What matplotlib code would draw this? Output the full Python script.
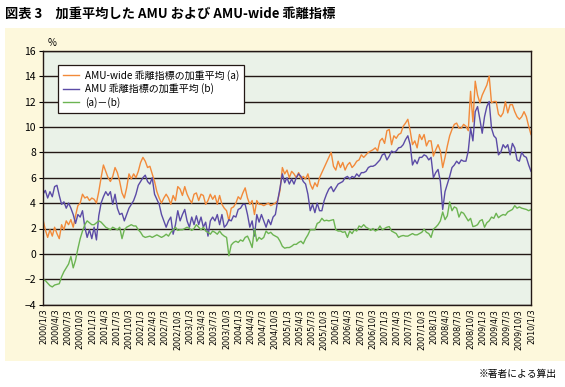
import matplotlib
matplotlib.use('Agg')
import matplotlib.pyplot as plt
import numpy as np
import pandas as pd
from matplotlib import font_manager
from matplotlib.patches import Rectangle

# 日本語フォント
plt.rcParams['font.family'] = ['Noto Sans CJK JP', 'DejaVu Sans']
names = {f.name for f in font_manager.fontManager.ttflist}
narrow = 'Liberation Sans Narrow' if 'Liberation Sans Narrow' in names else 'DejaVu Sans'

# -------------------------- データ (2000/1/3 - 2010/1/3) --------------------------
# (a) AMU-wide 乖離指標の加重平均
amu_wide = [
    2.7, 1.9, 1.3, 1.9, 1.4, 2.1, 1.6, 1.2, 2.3, 1.9,
    2.6, 2.3, 2.7, 2.1, 3.0, 3.8, 4.0, 4.7, 4.4, 4.5,
    4.2, 4.4, 4.3, 4.0, 4.9, 6.0, 7.0, 6.5, 6.0, 5.7,
    6.1, 6.8, 6.4, 5.7, 4.8, 4.4, 5.2, 6.3, 5.9, 6.3,
    6.0, 6.5, 7.2, 7.6, 7.3, 6.8, 6.9, 6.3, 5.7, 4.9,
    4.4, 4.0, 4.4, 4.7, 4.4,
    3.9, 4.6, 4.2, 5.3, 5.1, 4.6, 5.3, 4.7, 4.3, 4.0,
    4.7, 4.8, 4.2, 4.7, 4.6, 3.9, 4.2, 4.7, 4.3, 4.6,
    3.9, 4.6, 3.9, 3.6, 3.4, 2.6, 3.6, 3.7, 4.0, 4.5,
    4.3, 4.8, 5.2, 4.4, 3.9, 4.2, 3.1, 4.2, 3.9, 3.9,
    3.8, 3.9, 4.0, 3.8, 3.9, 4.0, 4.2, 5.0, 6.8, 6.3,
    6.6, 6.0, 6.5, 6.3,
    6.0, 6.4, 5.9, 6.1, 5.9, 6.3, 5.5, 5.1, 5.6, 5.3,
    6.0, 6.4, 6.8, 7.2, 7.6, 8.0, 6.9, 6.6, 7.3, 6.8,
    7.2, 6.6, 7.0, 7.2, 6.8, 7.0, 7.3, 7.4, 7.8, 7.6,
    7.8, 8.0, 8.1, 8.2, 8.35, 8.1, 8.9, 9.1, 8.7, 9.7,
    9.8, 8.6, 9.3, 9.1, 9.4, 9.5, 10.05, 10.3, 10.6, 9.7,
    8.6, 8.9, 8.35, 9.4,
    9.0, 9.4, 8.5, 8.9, 8.9, 7.7, 8.2, 8.6, 8.1, 6.8,
    7.6, 8.5, 9.3, 9.8, 10.2, 10.3, 9.9, 9.9, 10.2, 10.05,
    9.7, 12.8, 10.4, 13.6, 12.5, 11.9, 12.5, 12.9, 13.3, 14.0,
    11.9, 12.0, 12.0, 11.0, 10.8, 11.1, 12.0, 11.1, 11.75, 11.75,
    11.2, 10.8, 10.6, 10.8, 11.2, 10.8, 10.05, 9.4,
]

# (b) AMU 乖離指標の加重平均
amu = [
    4.7, 5.0, 4.4, 4.9, 4.5, 5.3, 5.4, 4.6, 3.9, 4.1,
    3.6, 4.0, 3.6, 3.1, 2.4, 3.1, 2.9, 3.4, 2.1, 1.3,
    1.9, 1.2, 2.1, 1.1, 3.0, 4.0, 4.5, 4.9, 4.6, 4.9,
    3.9, 4.7, 3.6, 3.1, 3.2, 2.6, 3.1, 3.6, 3.9, 4.2,
    4.7, 5.4, 5.7, 6.0, 6.2, 5.7, 5.5, 6.0, 4.7, 4.3,
    3.9, 3.1, 2.6, 2.1, 2.6,
    2.9, 1.55, 2.3, 3.4, 2.6, 3.1, 3.5, 2.6, 2.1, 2.9,
    2.3, 3.0, 2.3, 2.9, 2.1, 2.5, 1.4, 2.6, 2.9, 2.6,
    3.1, 2.3, 3.1, 2.1, 2.3, 2.7, 2.6, 3.0, 2.9, 3.5,
    3.6, 3.9, 3.9, 3.1, 2.1, 2.6, 1.4, 3.1, 2.5, 3.1,
    2.6, 2.1, 2.7, 2.3, 2.9, 3.1, 4.2, 5.2, 6.3, 5.6,
    6.0, 5.5, 5.9, 5.5,
    6.0, 6.3, 6.1, 5.7, 5.5, 4.7, 3.4, 3.9, 3.25, 4.0,
    3.4, 3.4, 4.2, 4.7, 5.1, 5.3, 4.9, 5.2, 5.5, 5.6,
    5.7, 6.0, 6.1, 5.9, 6.1, 6.0, 6.3, 6.1, 6.4, 6.4,
    6.5, 6.8, 6.9, 6.9, 7.0, 7.2, 7.4, 7.8, 7.9, 7.4,
    7.7, 8.1, 8.0, 8.1, 8.35, 8.4, 8.6, 9.0, 9.3, 8.6,
    7.0, 7.4, 7.1, 7.6,
    7.6, 7.8, 7.7, 7.4, 7.6, 6.0, 6.4, 6.65, 5.7, 3.5,
    4.9, 5.5, 6.1, 6.8, 7.0, 7.3, 7.1, 7.4, 7.3, 7.3,
    8.1, 9.9, 8.9, 11.2, 11.6, 10.6, 9.5, 10.8, 11.6, 12.0,
    9.9, 9.3, 9.1, 7.8, 8.0, 8.6, 8.35, 8.6, 7.8, 8.7,
    8.35, 7.4, 7.3, 8.0, 7.7, 7.6, 7.0, 6.5,
]

# (a)－(b)
spread = [
    -2.0, -2.1, -2.3, -2.5, -2.6, -2.45, -2.4, -2.35, -1.8, -1.4,
    -1.1, -0.8, -0.2, -1.1, -0.5, 0.4, 1.2, 1.8, 2.3, 2.6,
    2.45, 2.3, 2.3, 2.45, 2.6, 2.5, 2.3, 2.1, 2.0, 1.9,
    2.1, 2.0, 1.9, 2.1, 1.2, 1.9, 2.1, 2.2, 2.3, 2.2,
    2.2, 1.9, 1.7, 1.4, 1.3, 1.35, 1.4, 1.3, 1.4, 1.5,
    1.4, 1.3, 1.4, 1.55, 1.4,
    1.7, 1.9, 2.1, 1.85, 1.9, 1.9, 2.0, 2.1, 2.0, 1.85,
    2.0, 2.3, 2.1, 1.9, 2.1, 1.8, 1.7, 1.55, 1.8, 1.7,
    1.55, 1.8, 1.55, 1.4, 1.3, -0.15, 0.7, 0.9, 1.0, 0.9,
    1.1, 1.0, 1.3, 1.4, 1.0, 0.5, 2.0, 1.0, 1.3, 1.15,
    1.3, 1.8, 1.6, 1.7, 1.5, 1.4, 1.3, 1.0, 0.6, 0.45,
    0.5, 0.5, 0.6, 0.75,
    0.75, 0.9, 1.0, 0.8, 1.2, 1.5, 1.9, 1.9, 1.9, 2.4,
    2.5, 2.8, 2.6, 2.65, 2.6, 2.65, 2.7, 1.9, 1.8, 1.8,
    1.7, 1.75, 1.3, 1.8, 1.6, 1.9, 1.8, 2.2, 2.1, 2.3,
    2.1, 2.0, 1.85, 2.0, 1.8, 1.9, 2.2, 1.9, 2.0, 2.1,
    2.15, 1.8, 1.7, 1.6, 1.3, 1.4, 1.45, 1.4, 1.4, 1.5,
    1.6, 1.5, 1.5, 1.6,
    1.7, 1.95, 1.7, 1.6, 1.3, 1.95, 2.1, 2.3, 2.6, 3.3,
    2.7, 3.0, 4.1, 3.4, 3.7, 3.6, 2.9, 3.3, 3.2, 2.9,
    2.6, 2.8, 2.15, 2.2, 2.3, 2.6, 2.7, 2.1, 2.45, 2.6,
    2.9, 2.8, 3.2, 2.85, 3.0, 3.1, 3.05, 3.3, 3.4, 3.5,
    3.8, 3.6, 3.7, 3.6, 3.55, 3.5, 3.4, 3.5,
]

tick_years = list(range(2000, 2011))
tick_months = [1, 4, 7, 10]
labels_series = ['AMU-wide 乖離指標の加重平均 (a)', 'AMU 乖離指標の加重平均 (b)', '(a)－(b)']

dates = pd.date_range('2000-01-03', '2010-01-03', periods=len(amu_wide))
tick_dates = [pd.Timestamp(y, m, 3) for y in tick_years for m in tick_months
              if pd.Timestamp(y, m, 3) <= pd.Timestamp(2010, 1, 3)]
tick_labels = [f'{d.year}/{d.month}/3' for d in tick_dates]

# -------------------------- 描画 --------------------------
fig = plt.figure(figsize=(5.65, 3.87), dpi=100)
fig.patch.set_facecolor('white')
fig.patches.append(Rectangle((5 / 565, 1 - 361 / 387), 560 / 565, 333 / 387,
                             transform=fig.transFigure, facecolor='#fdf8dc',
                             edgecolor='none', zorder=-10))

ax = fig.add_axes([43 / 565, 1 - 304.7 / 387, 488 / 565, 254 / 387])
ax.set_facecolor('#eaf2e8')

ax.plot(dates, amu_wide, color='#f28a3a', lw=1.0, label=labels_series[0])
ax.plot(dates, amu, color='#5b4ba6', lw=1.0, label=labels_series[1])
ax.plot(dates, spread, color='#6cb452', lw=1.0, label=labels_series[2])

ax.set_xlim(dates[0], dates[-1])
ax.set_ylim(-4, 16)
ax.set_yticks(np.arange(-4, 17, 2))
ax.yaxis.grid(True, color='#231815', lw=1.0)
ax.set_axisbelow(True)
for s in ax.spines.values():
    s.set_color('#231815')
    s.set_linewidth(1.0)

ax.set_xticks(tick_dates)
ax.set_xticklabels(tick_labels, rotation=90, fontsize=5.8, family=narrow)
ax.tick_params(axis='x', length=0, pad=3)
ax.tick_params(axis='y', direction='out', length=3, labelsize=7.5, pad=2)

ax.text(0.01, 1.012, '%', transform=ax.transAxes, fontsize=7, va='bottom')

leg = ax.legend(loc='upper left', bbox_to_anchor=(0.031, 0.944), borderaxespad=0,
                fancybox=False, edgecolor='#231815', framealpha=1, fontsize=7.2,
                handlelength=1.6, handletextpad=0.6, labelspacing=0.25, borderpad=0.5)
leg.get_frame().set_linewidth(0.9)

fig.text(5 / 565, 1 - 14 / 387, '図表 3　加重平均した AMU および AMU-wide 乖離指標',
         fontsize=9.5, fontweight='bold', va='center')
fig.text(557 / 565, 1 - 374 / 387, '※著者による算出', fontsize=7, ha='right', va='center')

fig.savefig('out.png', dpi=100)
